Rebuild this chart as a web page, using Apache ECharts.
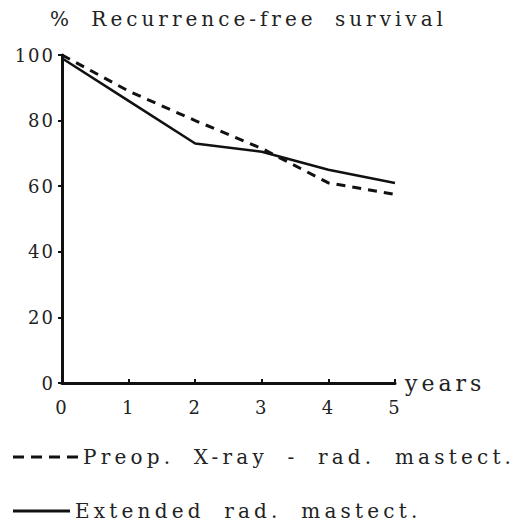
<!DOCTYPE html>
<html><head><meta charset="utf-8">
<script src="https://cdn.jsdelivr.net/npm/echarts@6/dist/echarts.min.js"></script>
<style>html,body{margin:0;padding:0;background:#fff}#c{width:525px;height:524px}
#c svg text{letter-spacing:2px}</style>
</head><body><div id="c"></div>
<script>
var years = [0, 1, 2, 3, 4, 5];
var yTicks = [0, 20, 40, 60, 80, 100];
var preopXray = [100, 89, 80, 71.5, 61, 57.5];
var extended = [99, 86, 73, 70.5, 65, 61];
var seriesNames = ['Preop. X-ray - rad. mastect.', 'Extended rad. mastect.'];
var yTitle = '% Recurrence-free survival';
var xName = 'years';

var font = 'DejaVu Serif';
var dashIcon = 'path://M0,0h11v3h-11z M18,0h11v3h-11z M36,0h11v3h-11z M54,0h11v3h-11z';
var solidIcon = 'path://M0,0h57v3h-57z';
var chart = echarts.init(document.getElementById('c'), null, {renderer: 'svg'});
chart.setOption({
  animation: false,
  backgroundColor: '#fff',
  title: {
    text: yTitle, left: 45, top: 4,
    textStyle: {fontFamily: font, fontSize: 20, fontWeight: 'normal', color: '#222'}
  },
  grid: {left: 62, right: 130, top: 55, bottom: 141},
  xAxis: {
    type: 'value', min: 0, max: 5, interval: 1,
    name: xName, nameLocation: 'end', nameGap: 10,
    nameTextStyle: {fontFamily: font, fontSize: 22, color: '#222', verticalAlign: 'middle'},
    axisLine: {lineStyle: {color: '#111', width: 3}},
    axisTick: {inside: true, length: 4, lineStyle: {color: '#111', width: 2}},
    axisLabel: {fontFamily: font, fontSize: 18, color: '#222', margin: 15,
      formatter: function(v){return years.indexOf(v) >= 0 ? String(v) : '';}},
    splitLine: {show: false}
  },
  yAxis: {
    type: 'value', min: 0, max: 100, interval: 20,
    axisLine: {show: true, lineStyle: {color: '#111', width: 3}},
    axisTick: {show: true, length: 4, lineStyle: {color: '#111', width: 2}},
    axisLabel: {fontFamily: font, fontSize: 18, color: '#222', margin: 7,
      formatter: function(v){return yTicks.indexOf(v) >= 0 ? String(v) : '';}},
    splitLine: {show: false}
  },
  legend: [
    {left: 8, top: 442, itemWidth: 65, itemHeight: 3, itemGap: 0,
     textStyle: {fontFamily: font, fontSize: 20, color: '#222'},
     data: [{name: seriesNames[0], icon: dashIcon}]},
    {left: 8, top: 496, itemWidth: 57, itemHeight: 3, itemGap: 0,
     textStyle: {fontFamily: font, fontSize: 20, color: '#222'},
     data: [{name: seriesNames[1], icon: solidIcon}]}
  ],
  series: [
    {name: seriesNames[0], type: 'line', symbol: 'none',
     data: years.map(function(x,i){return [x, preopXray[i]];}),
     lineStyle: {color: '#111', width: 3, type: [9, 7]}, itemStyle: {color: '#111'}},
    {name: seriesNames[1], type: 'line', symbol: 'none',
     data: years.map(function(x,i){return [x, extended[i]];}),
     lineStyle: {color: '#111', width: 2.5, type: 'solid'}, itemStyle: {color: '#111'}}
  ]
});
var spacing = {};
spacing[yTitle] = ['4px', '8px'];
spacing[seriesNames[0]] = ['4.2px', '9px'];
spacing[seriesNames[1]] = ['4.2px', '9px'];
spacing[xName] = ['4px', '0px'];
function applySpacing(){
  var ts = document.querySelectorAll('#c svg text');
  for (var i = 0; i < ts.length; i++) {
    var s = spacing[ts[i].textContent];
    if (s) { ts[i].style.letterSpacing = s[0]; ts[i].style.wordSpacing = s[1]; }
  }
}
chart.on('finished', applySpacing);
applySpacing();
setTimeout(applySpacing, 50);
</script></body></html>
